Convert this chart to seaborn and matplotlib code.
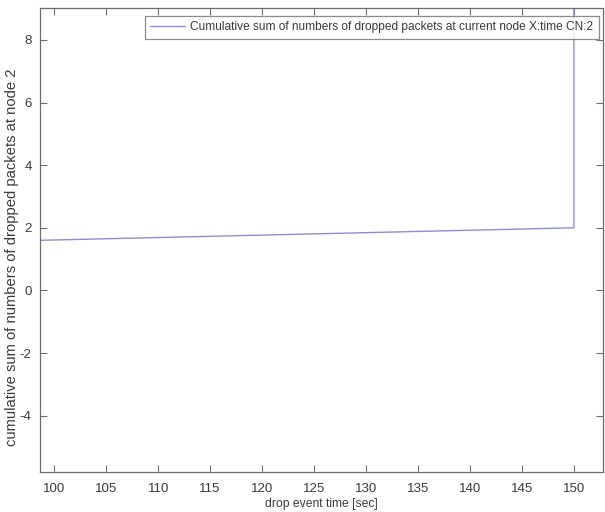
import matplotlib
matplotlib.use("Agg")
import matplotlib.pyplot as plt
import seaborn as sns
import pandas as pd

# Cumulative dropped-packet count at node 2 versus drop event time
drop_time = [98.6, 150.0, 150.0]
cum_drops = [1.6, 2.0, 9.5]
x_ticks = [100, 105, 110, 115, 120, 125, 130, 135, 140, 145, 150]
y_ticks = [-4, -2, 0, 2, 4, 6, 8]
series_label = "Cumulative sum of numbers of dropped packets at current node X:time CN:2"

df = pd.DataFrame({"time": drop_time, "cum": cum_drops})

sns.set_theme(style="white")
plt.rcParams["font.family"] = ["Liberation Sans", "DejaVu Sans"]
plt.rcParams["axes.unicode_minus"] = False

W, H = 605, 512
fig = plt.figure(figsize=(W / 100, H / 100), dpi=100)
ax = fig.add_axes([40 / W, 1 - 472 / H, 563 / W, 464 / H])

sns.lineplot(data=df, x="time", y="cum", ax=ax, color="#8c8cdc", linewidth=1.0,
             sort=False, estimator=None, label=series_label)

ax.set_xlim(98.63, 152.8)
ax.set_ylim(-5.8, 9.02)
ax.set_xticks(x_ticks)
ax.set_yticks(y_ticks)

grey = "#6e6e6e"
text_col = "#3a3a3a"
for s in ax.spines.values():
    s.set_color(grey)
    s.set_linewidth(0.9)
ax.tick_params(direction="in", length=5, width=0.8, color=grey,
               top=True, right=True, bottom=True, left=True,
               labelsize=9.5, labelcolor=text_col)
ax.tick_params(axis="x", pad=8)
ax.tick_params(axis="y", pad=6)

ax.set_xlabel("drop event time [sec]", fontsize=8.7, color=text_col, labelpad=2)
ax.set_ylabel("cumulative sum of numbers of dropped packets at node 2",
              fontsize=10.6, color=text_col)
ax.yaxis.set_label_coords(-0.038, 0.463)

leg = ax.legend(loc="upper right", bbox_to_anchor=(599 / W, 1 - 16 / H),
                bbox_transform=fig.transFigure, borderaxespad=0,
                fontsize=8.6, frameon=True, fancybox=False,
                handlelength=2.9, handletextpad=0.45, borderpad=0.45)
leg.get_frame().set_edgecolor(grey)
leg.get_frame().set_linewidth(0.9)
for t in leg.get_texts():
    t.set_color(text_col)

fig.savefig("out.png", dpi=100)
